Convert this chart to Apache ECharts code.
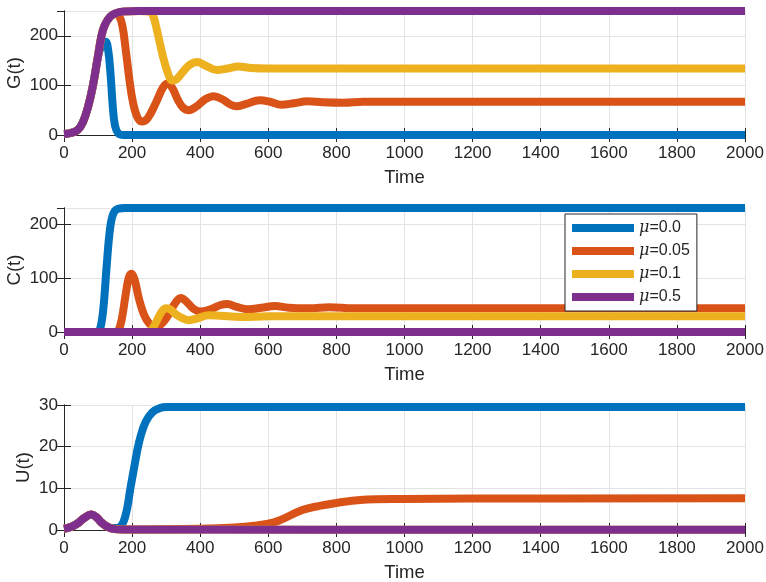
<!DOCTYPE html>
<html>
<head>
<meta charset="utf-8">
<title>G(t), C(t), U(t)</title>
<script src="https://cdn.jsdelivr.net/npm/echarts@6.0.0/dist/echarts.min.js"></script>
<style>
    html, body { margin: 0; padding: 0; background: #fff; }
    #chart { width: 766px; height: 582px; }
</style>
</head>
<body>
<div id="chart"></div>
<script>
// legend names and colours (MATLAB default order)
var muNames = ['μ=0.0', 'μ=0.05', 'μ=0.1', 'μ=0.5'];
var muColors = ['#0072BD', '#D95319', '#EDB120', '#7E2F8E'];

// G(t), [time, value]
var gMu0 = [[0, 2], [20, 4], [40, 10], [55, 25], [70, 55], [85, 100], [100, 158], [110, 180], [122, 188], [130, 170], [137, 120], [143, 60], [150, 18], [160, 3], [175, 0], [2000, 0]];
var gMu005 = [[0, 2], [20, 4], [40, 10], [55, 25], [70, 55], [85, 100], [100, 160], [110, 200], [120, 222], [135, 238], [150, 244], [162, 240], [172, 218], [182, 168], [192, 112], [202, 68], [214, 38], [228, 27], [245, 33], [270, 65], [290, 95], [304, 104], [318, 95], [335, 70], [350, 55], [367, 50], [390, 58], [415, 72], [440, 78], [465, 72], [490, 61], [507, 58], [535, 63], [575, 70], [605, 67], [638, 61], [675, 64], [715, 68], [760, 66], [820, 65], [880, 67], [2000, 67]];
var gMu01 = [[0, 2], [20, 4], [40, 10], [55, 25], [70, 55], [85, 100], [100, 160], [110, 200], [120, 222], [135, 238], [150, 245], [175, 249], [220, 250], [250, 249], [262, 240], [275, 205], [290, 160], [305, 125], [318, 110], [330, 112], [350, 128], [370, 142], [391, 147], [415, 140], [449, 131], [480, 134], [512, 138], [550, 135], [600, 134], [2000, 134]];
var gMu05 = [[0, 2], [20, 4], [40, 10], [55, 25], [70, 55], [85, 100], [100, 160], [110, 200], [120, 222], [135, 238], [150, 245], [175, 249], [220, 250], [2000, 250]];

// C(t)
var cMu0 = [[0, 0], [95, 0], [105, 4], [115, 40], [125, 120], [135, 190], [145, 220], [160, 229], [180, 230], [2000, 230]];
var cMu005 = [[0, 0], [150, 0], [160, 3], [170, 25], [180, 65], [190, 100], [198, 108], [207, 98], [220, 62], [235, 32], [250, 16], [265, 10], [285, 14], [305, 30], [325, 52], [343, 63], [360, 56], [380, 43], [400, 38], [430, 42], [460, 50], [480, 52], [505, 47], [541, 42], [580, 45], [620, 48], [660, 45], [720, 44], [780, 46], [850, 44], [2000, 44]];
var cMu01 = [[0, 0], [245, 0], [258, 5], [272, 20], [287, 38], [300, 44], [312, 42], [330, 32], [350, 25], [367, 22], [390, 25], [425, 31], [460, 30], [520, 28], [600, 29], [2000, 29]];
var cMu05 = [[0, 0], [2000, 0]];

// U(t)
var uMu0 = [[0, 0.3], [20, 0.7], [40, 1.6], [60, 2.9], [80, 3.7], [95, 3.1], [110, 1.8], [125, 0.9], [140, 0.5], [155, 0.5], [165, 0.8], [175, 2], [185, 5], [195, 10], [205, 14.5], [215, 19], [225, 22.5], [240, 26], [260, 28.3], [280, 29.2], [300, 29.5], [2000, 29.5]];
var uMu005 = [[0, 0.3], [20, 0.7], [40, 1.6], [60, 2.9], [80, 3.7], [95, 3.1], [110, 1.8], [125, 0.9], [140, 0.35], [200, 0.1], [400, 0.3], [500, 0.6], [560, 1.0], [600, 1.5], [630, 2.2], [700, 4.8], [750, 5.8], [800, 6.5], [870, 7.2], [1000, 7.45], [1200, 7.55], [2000, 7.6]];
var uMu01 = [[0, 0.3], [20, 0.7], [40, 1.6], [60, 2.9], [80, 3.7], [95, 3.1], [110, 1.8], [125, 0.9], [140, 0.35], [170, 0.1], [2000, 0.05]];
var uMu05 = [[0, 0.3], [20, 0.7], [40, 1.6], [60, 2.9], [80, 3.7], [95, 3.1], [110, 1.8], [125, 0.9], [140, 0.35], [170, 0.1], [2000, 0.05]];

// axis settings per panel
var yNames = ['G(t)', 'C(t)', 'U(t)'];
var yMax = [250, 230, 30];
var yInterval = [100, 100, 10];
var yNameGap = [40, 40, 31];
var panels = [
    [gMu0, gMu005, gMu01, gMu05],
    [cMu0, cMu005, cMu01, cMu05],
    [uMu0, uMu005, uMu01, uMu05]
];

var font = 'Liberation Sans, Arial, Helvetica, sans-serif';
var ink = '#262626';

var grids = [
    {left: 64, right: 21, top: 11, height: 124, outerBoundsMode: 'none'},
    {left: 64, right: 21, top: 208, height: 124, outerBoundsMode: 'none'},
    {left: 64, right: 21, top: 405, height: 125, outerBoundsMode: 'none'}
];

// plain numbers, no thousands separator
var plain = function (v) {
    return String(v);
};

var xAxes = [], yAxes = [], series = [];
for (var i = 0; i < 3; i++) {
    // bottom axis with labels
    xAxes.push({
        type: 'value', gridIndex: i, min: 0, max: 2000, interval: 200,
        name: 'Time', nameLocation: 'middle', nameGap: 33, nameMoveOverlap: false,
        nameTextStyle: {color: ink, fontSize: 18.5, fontFamily: font},
        axisLine: {show: true, lineStyle: {color: ink, width: 1}},
        axisTick: {show: true, inside: true, length: 7, lineStyle: {color: ink}},
        axisLabel: {color: ink, fontSize: 17, fontFamily: font, margin: 10, formatter: plain},
        splitLine: {show: true, lineStyle: {color: '#e3e3e3', width: 1}}
    });
    // top box edge
    xAxes.push({
        type: 'value', gridIndex: i, position: 'top', min: 0, max: 2000, interval: 200,
        axisLine: {show: true, lineStyle: {color: ink, width: 1}},
        axisTick: {show: true, inside: true, length: 7, lineStyle: {color: ink}},
        axisLabel: {show: false},
        splitLine: {show: false}
    });
    yAxes.push({
        type: 'value', gridIndex: i, min: 0, max: yMax[i], interval: yInterval[i],
        name: yNames[i], nameLocation: 'middle', nameGap: yNameGap[i], nameMoveOverlap: false,
        nameTextStyle: {color: ink, fontSize: 18.5, fontFamily: font},
        axisLine: {show: true, lineStyle: {color: ink, width: 1}},
        axisTick: {show: true, inside: true, length: 7, lineStyle: {color: ink}},
        axisLabel: {color: ink, fontSize: 17, fontFamily: font, margin: 6, formatter: plain,
            showMaxLabel: yMax[i] % yInterval[i] === 0},
        splitLine: {show: true, lineStyle: {color: '#e3e3e3', width: 1}}
    });
    // right box edge
    yAxes.push({
        type: 'value', gridIndex: i, position: 'right', min: 0, max: yMax[i], interval: yInterval[i],
        axisLine: {show: true, lineStyle: {color: ink, width: 1}},
        axisTick: {show: true, inside: true, length: 7, lineStyle: {color: ink}},
        axisLabel: {show: false},
        splitLine: {show: false}
    });

    for (var k = 0; k < 4; k++) {
        series.push({
            name: muNames[k],
            type: 'line',
            xAxisIndex: i * 2,
            yAxisIndex: i * 2,
            data: panels[i][k],
            smooth: 0.4,
            showSymbol: false,
            clip: false,
            color: muColors[k],
            lineStyle: {width: 8, color: muColors[k], cap: 'butt', join: 'round'},
            emphasis: {disabled: true}
        });
    }
}

var myChart = echarts.init(document.getElementById('chart'), null, {renderer: 'canvas'});
var option = {
    animation: false,
    backgroundColor: '#fff',
    grid: grids,
    xAxis: xAxes,
    yAxis: yAxes,
    legend: {
        data: muNames,
        orient: 'vertical',
        left: 565,
        top: 214,
        z: 10,
        padding: [5, 7, 5, 7],
        itemGap: 5,
        itemWidth: 62,
        itemHeight: 8,
        icon: 'rect',
        selectedMode: false,
        backgroundColor: '#fff',
        borderColor: ink,
        borderWidth: 1,
        formatter: function (name) {
            return '{i|μ}' + name.slice(1);
        },
        textStyle: {
            color: ink,
            fontSize: 16,
            fontFamily: font,
            lineHeight: 18,
            rich: {
                i: {fontStyle: 'italic', fontSize: 16, fontFamily: 'DejaVu Serif, serif', color: ink, lineHeight: 18}
            }
        }
    },
    series: series
};
myChart.setOption(option);
</script>
</body>
</html>
